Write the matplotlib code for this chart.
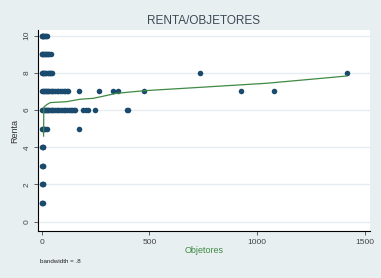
import numpy as np
import matplotlib
matplotlib.use('Agg')
import matplotlib.pyplot as plt

#-------------------------------------------------
#                DATA
#-------------------------------------------------

renta_10 = [0, 2, 5, 8, 12, 16, 20, 23]
renta_9 = [0, 3, 6, 10, 15, 20, 25, 30, 36, 42]
renta_8 = [0, 4, 8, 12, 17, 22, 28, 34, 40, 45, 49, 735, 1416]
renta_7 = [0, 5, 10, 15, 20, 25, 30, 36, 42, 48, 55, 62, 70, 78, 86, 94, 102,
           110, 117, 124, 175, 266, 330, 356, 476, 925, 1078]
renta_6 = [0, 5, 10, 15, 20, 25, 30, 36, 42, 48, 55, 62, 70, 78, 86, 94, 102,
           110, 118, 126, 134, 141, 148, 155, 193, 206, 216, 248, 395, 400]
renta_5 = [0, 4, 8, 12, 17, 23, 175]
renta_4 = [0, 4, 8]
renta_3 = [0, 4, 8]
renta_2 = [0, 4, 8]
renta_1 = [0, 3, 7]

groups = {10: renta_10, 9: renta_9, 8: renta_8, 7: renta_7, 6: renta_6,
          5: renta_5, 4: renta_4, 3: renta_3, 2: renta_2, 1: renta_1}

objetores = []
renta = []
for r, xs in groups.items():
    objetores += xs
    renta += [r] * len(xs)

lowess_x = [9, 10, 14, 25, 40, 116, 178, 240, 348, 476, 735, 1045, 1352, 1416]
lowess_y = [4.6, 6.15, 6.2, 6.3, 6.4, 6.45, 6.58, 6.63, 6.9, 7.04, 7.22, 7.44, 7.76, 7.83]

x_ticks = [0, 500, 1000, 1500]
y_ticks = [0, 2, 4, 6, 8, 10]

#-------------------------------------------------
#                GRAPH
#-------------------------------------------------

bg = '#e8eff1'
navy = '#1a4a6e'
green = '#3f8a44'
plt.rcParams['font.family'] = ['Liberation Sans', 'DejaVu Sans']

fig = plt.figure(figsize=(3.81, 2.78), dpi=100, facecolor=bg)
ax = fig.add_axes([0.0997, 0.169, 0.8713, 0.723])
ax.set_facecolor('white')

ax.plot(objetores, renta, linestyle='none', marker='o', markersize=4.0,
        color=navy, markeredgewidth=0)
ax.plot(lowess_x, lowess_y, color=green, linewidth=0.9)

ax.set_xlim(-17, 1524)
ax.set_ylim(-0.5, 10.3)
ax.set_xticks(x_ticks)
ax.set_yticks(y_ticks)
ax.set_yticklabels([str(t) for t in y_ticks], rotation=90, va='center')
ax.tick_params(labelsize=6, colors='#444444', length=3, width=0.6, pad=2.5)
ax.yaxis.grid(True, color='#e6edf0', linewidth=1.0)
ax.set_axisbelow(True)

for s in ['top', 'right']:
    ax.spines[s].set_visible(False)
for s in ['left', 'bottom']:
    ax.spines[s].set_color('black')
    ax.spines[s].set_linewidth(0.8)

ax.set_xlabel('Objetores', fontsize=6.5, color=green, labelpad=0)
ax.set_ylabel('Renta', fontsize=6.5, color='#333333', labelpad=3)
fig.text(0.535, 0.925, 'RENTA/OBJETORES', fontsize=8.5, color='#3c4a55',
         ha='center', va='center')
fig.text(0.105, 0.06, 'bandwidth = .8', fontsize=4.5, color='#222222',
         ha='left', va='center')

fig.savefig('out.png', dpi=100, facecolor=bg)
